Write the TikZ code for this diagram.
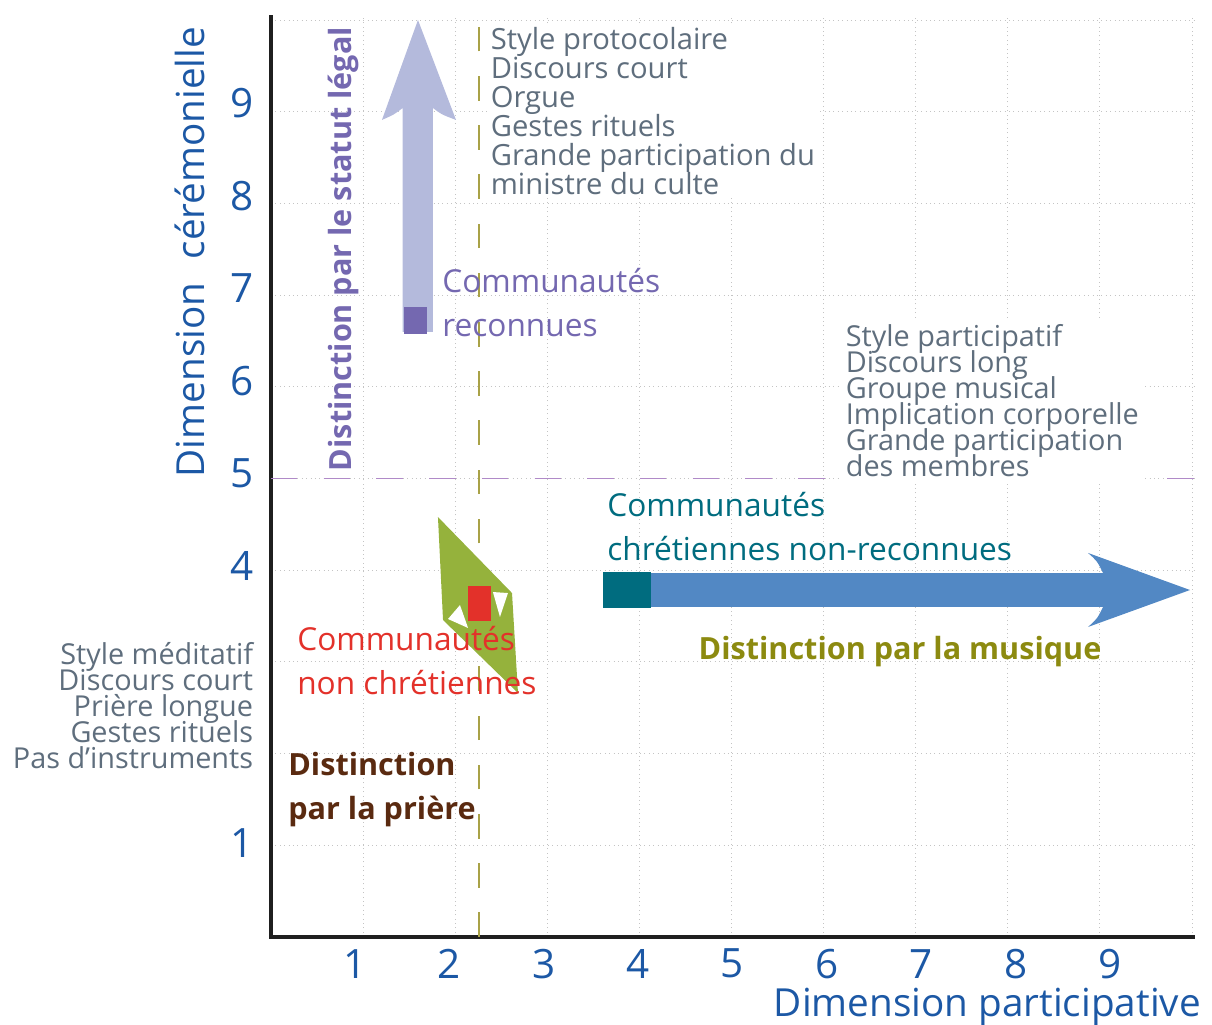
\documentclass[tikz,border=0pt]{standalone}
\usepackage{fontspec}
\setmainfont{Open Sans}
\usetikzlibrary{calc,arrows.meta}
\definecolor{axisblue}{HTML}{1C58A5}
\definecolor{listgrey}{HTML}{5F6E7D}
\definecolor{legalpurple}{HTML}{7468B0}
\definecolor{lavender}{HTML}{B4BADC}
\definecolor{chrteal}{HTML}{006C7F}
\definecolor{musicblue}{HTML}{5288C4}
\definecolor{nonred}{HTML}{E3312A}
\definecolor{polygreen}{HTML}{95B23C}
\definecolor{musicolive}{HTML}{8C8A10}
\definecolor{prayerbrown}{HTML}{5A2A10}
\definecolor{cutolive}{HTML}{A9A247}
\definecolor{cutlilac}{HTML}{B08AC8}
\definecolor{gridgrey}{HTML}{C4C4C4}
\newcommand\listeserree{\lineskiplimit=-100pt\relax}

\begin{document}
\begin{tikzpicture}[x=1.842cm, y=1.834cm,
    liste/.style={text=listgrey, inner sep=0pt, font=\fontsize{16.4}{14.8}\selectfont\listeserree},
    groupe/.style={inner sep=0pt, align=left, anchor=north west, font=\fontsize{18}{25}\selectfont},
    distinction/.style={inner sep=0pt, font=\fontsize{17.4}{25}\selectfont\bfseries},
    axe/.style={text=axisblue, inner sep=0pt, font=\fontsize{22}{22}\selectfont},
    graduation/.style={text=axisblue, inner sep=0pt, font=\fontsize{23}{23}\selectfont}]
            \useasboundingbox (-2.942,-0.949) rectangle (10.217,10.218);
            % grid
            \foreach \k in {1,...,10}{
                \path[draw, gridgrey, dotted, line width=0.5pt](\k,0)to(\k,10.05);
                \path[draw, gridgrey, dotted, line width=0.5pt](0,\k)to(10.03,\k);
            }
            % axis
            \coordinate(O)at(0,0);
            \coordinate(X)at(10.03,0);
            \coordinate(Y)at(0,10.05);
            \path[draw, line width=2.8pt, black!88](X)to(O)to(Y);
            % separations
            \coordinate(S1)at(0,5);
            \coordinate(S2)at(10.03,5);
            \coordinate(S3)at(2.258,0);
            \coordinate(S4)at(2.258,10.1);
            \path[draw, cutlilac, line width=0.8pt, dash pattern=on 15pt off 15pt](S1)to(S2);
            \path[draw, cutolive, line width=0.8pt, dash pattern=on 14pt off 14pt](S3)to(S4);
            % legal status arrow
            \path[fill=lavender](1.429,6.598)--(1.429,9.04)..controls(1.34,8.97)..(1.205,8.91)
                --(1.596,10.0)--(2.009,8.91)..controls(1.85,8.97)..(1.759,9.04)--(1.759,6.598)--cycle;
            \path[fill=legalpurple](1.444,6.576)rectangle(1.694,6.87);
            % music arrow
            \path[fill=musicblue](4.126,3.599)--(9.034,3.599)..controls(8.97,3.47)..(8.871,3.381)
                --(9.978,3.784)--(8.871,4.188)..controls(8.97,4.10)..(9.034,3.969)--(4.126,3.969)--cycle;
            \path[fill=chrteal](3.605,3.588)rectangle(4.126,3.98);
            % prayer polygon
            \path[fill=polygreen](1.813,4.58)--(2.617,3.751)--(2.682,2.661)--(1.868,3.457)--cycle;
            \path[fill=white](2.052,3.62)--(1.922,3.468)--(2.14,3.37)--cycle;
            \path[fill=white](2.41,3.762)--(2.573,3.751)--(2.486,3.49)--cycle;
            \path[fill=nonred](2.139,3.446)rectangle(2.389,3.828);
            % lists
            \node[liste, fill=white, align=left, anchor=north west, inner sep=2pt,
                font=\fontsize{16.6}{16.5}\selectfont\listeserree](protocole)at(2.345,9.965)
                {Style protocolaire\\Discours court\\Orgue\\Gestes rituels\\Grande participation du\\ministre du culte};
            \node[liste, fill=white, align=left, anchor=north west, inner sep=2pt](participatif)at(6.2,6.718)
                {Style participatif\\Discours long\\Groupe musical\\Implication corporelle\\Grande participation\\des membres};
            \node[liste, align=right, anchor=north east](meditatif)at(-0.19,3.217)
                {Style méditatif\\Discours court\\Prière longue\\Gestes rituels\\Pas d’instruments};
            % groups
            \node[groupe, text=legalpurple](reconnues)at(1.857,7.295){Communautés\\reconnues};
            \node[groupe, text=chrteal](chretiennes)at(3.648,4.853){Communautés\\chrétiennes non-reconnues};
            \node[groupe, text=nonred](nonchretiennes)at(0.282,3.391){Communautés\\non chrétiennes};
            % distinctions
            \node[distinction, text=prayerbrown, align=left, anchor=north west](priere)at(0.185,2.017){Distinction\\par la prière};
            \node[distinction, text=musicolive](musique)at(6.83,3.108){Distinction par la musique};
            \node[distinction, text=legalpurple, rotate=90](legal)at(0.782,7.502){Distinction par le statut légal};
            % axis labels
            \foreach \k in {1,...,9}
                \node[graduation](gx\k)at({0.91+(\k-1)*1.025},-0.29){\k};
            \foreach \k in {1,4,5,6,7,8,9}
                \node[graduation](gy\k)at(-0.315,{1.025+(\k-1)*1.008}){\k};
            \node[axe, anchor=east](titrex)at(10.1,-0.765){Dimension participative};
            \node[axe, rotate=90](titrey)at(-0.879,7.47){Dimension\hspace{0.6em}cérémonielle};
\end{tikzpicture}
\end{document}
